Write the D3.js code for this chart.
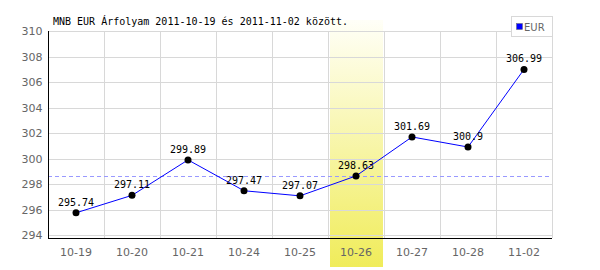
<!DOCTYPE html>
<html>
<head>
<meta charset="utf-8">
<script src="https://cdn.jsdelivr.net/npm/d3@7"></script>
<style>
  body { margin: 0; background: #fff; }
</style>
</head>
<body>
<div id="chart"></div>
<script>
var dates  = ['10-19', '10-20', '10-21', '10-24', '10-25', '10-26', '10-27', '10-28', '11-02'];
var values = [295.74, 297.11, 299.89, 297.47, 297.07, 298.63, 301.69, 300.9, 306.99];
var y_ticks = [294, 296, 298, 300, 302, 304, 306, 308, 310];
var highlight = '10-26';
var ref_value = 298.63;
var title = 'MNB EUR Árfolyam 2011-10-19 és 2011-11-02 között.';
var series_name = 'EUR';

var chart_width = 600;
var chart_height = 270;
var plot_left = 48, plot_right = 552, plot_top = 31, plot_bottom = 238;

var svg = d3.select('#chart')
    .append('svg')
    .attr('width', chart_width)
    .attr('height', chart_height);

var defs = svg.append('defs');
var grad = defs.append('linearGradient')
    .attr('id', 'hl')
    .attr('x1', 0).attr('y1', 0).attr('x2', 0).attr('y2', 1);
grad.append('stop').attr('offset', '0%').attr('stop-color', '#fffff8');
grad.append('stop').attr('offset', '100%').attr('stop-color', '#f0ec5a');

// scales
var x_scale = d3.scaleBand()
    .domain(dates)
    .range([plot_left, plot_right]);

var y_scale = d3.scaleLinear()
    .domain([294, 310])
    .range([235, plot_top]);

// highlighted day
svg.append('rect')
    .attr('x', x_scale(highlight) + 2)
    .attr('y', 20)
    .attr('width', x_scale.bandwidth() - 3)
    .attr('height', 247)
    .attr('fill', 'url(#hl)');

// grid
svg.append('g').selectAll('line')
    .data(y_ticks)
    .enter()
    .append('line')
    .attr('x1', plot_left).attr('x2', plot_right)
    .attr('y1', d => Math.round(y_scale(d)) + 0.5)
    .attr('y2', d => Math.round(y_scale(d)) + 0.5)
    .attr('stroke', '#d8d8d8');

svg.append('g').selectAll('line')
    .data(dates)
    .enter()
    .append('line')
    .attr('x1', d => x_scale(d) + x_scale.bandwidth() + 0.5)
    .attr('x2', d => x_scale(d) + x_scale.bandwidth() + 0.5)
    .attr('y1', plot_top)
    .attr('y2', plot_bottom)
    .attr('stroke', '#d8d8d8');

// reference dashed line
svg.append('line')
    .attr('x1', plot_left).attr('x2', plot_right)
    .attr('y1', Math.round(y_scale(ref_value)) + 0.5)
    .attr('y2', Math.round(y_scale(ref_value)) + 0.5)
    .attr('stroke', '#9999ff')
    .attr('stroke-dasharray', '4,3');

// axes
var x_axis = d3.axisBottom(x_scale).tickSize(0).tickPadding(10);
svg.append('g')
    .attr('transform', `translate(0, ${plot_bottom + 0.5})`)
    .call(x_axis)
    .call(g => g.select('.domain').attr('stroke', '#000').attr('d', `M${plot_left},0H${plot_right}`))
    .call(g => g.selectAll('text').attr('fill', '#666').attr('font-size', 11)
        .attr('font-family', '"DejaVu Sans", sans-serif'));

var y_axis = d3.axisLeft(y_scale).tickValues(y_ticks).tickSize(0).tickPadding(6);
svg.append('g')
    .attr('transform', `translate(${plot_left + 0.5}, 0)`)
    .call(y_axis)
    .call(g => g.select('.domain').attr('stroke', '#000').attr('d', `M0,${plot_top}V${plot_bottom}`))
    .call(g => g.selectAll('text').attr('fill', '#666').attr('font-size', 11)
        .attr('font-family', '"DejaVu Sans", sans-serif'));

// line
var pts = dates.map((d, i) => ({date: d, num: values[i]}));
var line = d3.line()
    .x(d => x_scale(d.date) + x_scale.bandwidth() / 2)
    .y(d => y_scale(d.num));

svg.append('path')
    .datum(pts)
    .attr('d', line)
    .attr('fill', 'none')
    .attr('stroke', '#0000ff')
    .attr('stroke-width', 1);

svg.selectAll('circle')
    .data(pts)
    .enter()
    .append('circle')
    .attr('cx', d => x_scale(d.date) + x_scale.bandwidth() / 2)
    .attr('cy', d => y_scale(d.num))
    .attr('r', 3.5)
    .attr('fill', '#000');

// value labels
svg.append('g').selectAll('text')
    .data(pts)
    .enter()
    .append('text')
    .text(d => d.num)
    .attr('x', d => x_scale(d.date) + x_scale.bandwidth() / 2)
    .attr('y', d => y_scale(d.num) - 7)
    .attr('text-anchor', 'middle')
    .attr('font-family', '"DejaVu Sans Mono", monospace')
    .attr('font-size', 10)
    .attr('fill', '#000');

// title
svg.append('text')
    .text(title)
    .attr('x', 53)
    .attr('y', 25)
    .attr('font-family', '"DejaVu Sans Mono", monospace')
    .attr('font-size', 10)
    .attr('fill', '#000');

// legend
svg.append('rect')
    .attr('x', 511.5).attr('y', 16.5)
    .attr('width', 41).attr('height', 20)
    .attr('fill', '#fff')
    .attr('stroke', '#d8d8d8');
svg.append('rect')
    .attr('x', 516.5).attr('y', 23.5)
    .attr('width', 6).attr('height', 6)
    .attr('fill', '#0000ff')
    .attr('stroke', '#666')
    .attr('stroke-width', 0.5);
svg.append('text')
    .text(series_name)
    .attr('x', 524)
    .attr('y', 30.5)
    .attr('font-family', '"DejaVu Sans", sans-serif')
    .attr('font-size', 10)
    .attr('fill', '#666');
</script>
</body>
</html>
